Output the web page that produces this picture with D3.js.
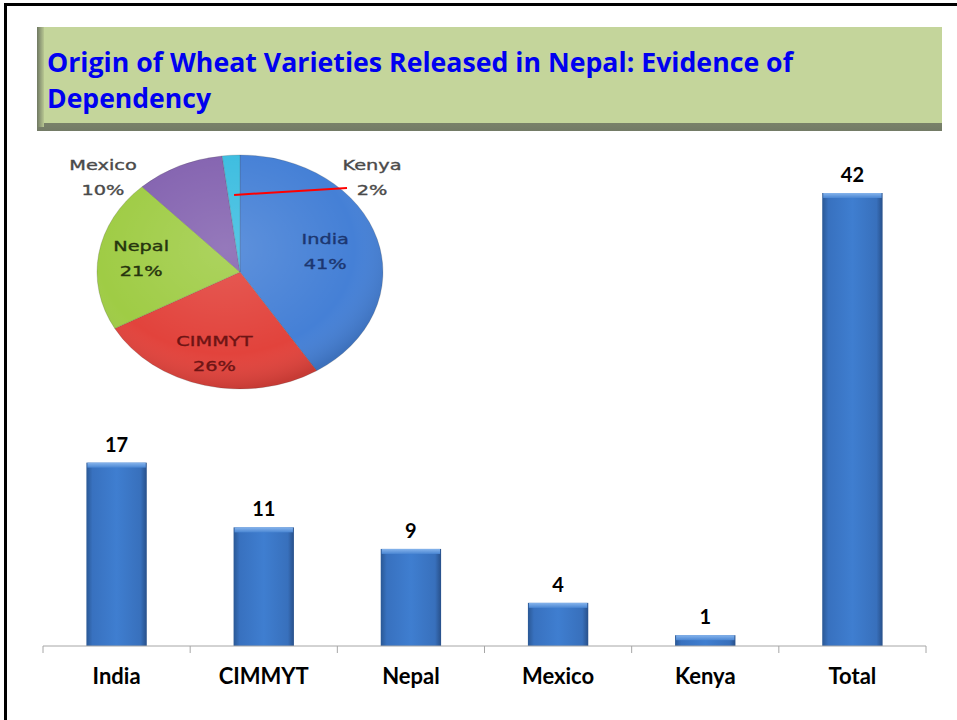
<!DOCTYPE html>
<html>
<head>
<meta charset="utf-8">
<script src="https://cdn.jsdelivr.net/npm/d3@7"></script>
<style>
  body { margin: 0; background: #fff; }
  svg { display: block; }
  text { font-variant-ligatures: none; font-feature-settings: "liga" 0, "clig" 0, "dlig" 0, "calt" 0; }
</style>
</head>
<body>
<div id="chart"></div>
<script>
// data
const categories = ["India", "CIMMYT", "Nepal", "Mexico", "Kenya", "Total"];
const counts = [17, 11, 9, 4, 1, 42];
const pieNames = ["India", "CIMMYT", "Nepal", "Mexico", "Kenya"];
const pieShares = [41, 26, 21, 10, 2]; // percent, as printed on the pie
const titleLines = ["Origin of Wheat Varieties Released in Nepal: Evidence of", "Dependency"];

const width = 957, height = 720;

const svg = d3.select("#chart").append("svg")
    .attr("width", width)
    .attr("height", height);

const defs = svg.append("defs");

// bar gradient (left/right edges darker)
const bg = defs.append("linearGradient").attr("id", "barGrad").attr("x1", 0).attr("x2", 1).attr("y1", 0).attr("y2", 0);
[["0%", "#2a5895"], ["10%", "#3871bf"], ["50%", "#3f7ed0"], ["90%", "#3870bc"], ["100%", "#28508a"]]
  .forEach(s => bg.append("stop").attr("offset", s[0]).attr("stop-color", s[1]));

const capG = defs.append("linearGradient").attr("id", "capGrad").attr("x1", 0).attr("x2", 0).attr("y1", 0).attr("y2", 1);
capG.append("stop").attr("offset", "0%").attr("stop-color", "#86b4ec");
capG.append("stop").attr("offset", "100%").attr("stop-color", "#4a86d3");

const shadeG = defs.append("radialGradient").attr("id", "pieShade")
    .attr("cx", "45%").attr("cy", "40%").attr("r", "60%");
shadeG.append("stop").attr("offset", "0%").attr("stop-color", "#fff").attr("stop-opacity", 0.14);
shadeG.append("stop").attr("offset", "75%").attr("stop-color", "#fff").attr("stop-opacity", 0);
shadeG.append("stop").attr("offset", "100%").attr("stop-color", "#000").attr("stop-opacity", 0.12);

const titleShadow = defs.append("linearGradient").attr("id", "tshadow").attr("x1", 0).attr("x2", 0).attr("y1", 0).attr("y2", 1);
titleShadow.append("stop").attr("offset", "0%").attr("stop-color", "#b8c792");
titleShadow.append("stop").attr("offset", "100%").attr("stop-color", "#737b66");

const leftShadow = defs.append("linearGradient").attr("id", "lshadow").attr("x1", 0).attr("x2", 1).attr("y1", 0).attr("y2", 0);
leftShadow.append("stop").attr("offset", "0%").attr("stop-color", "#6f7862");
leftShadow.append("stop").attr("offset", "100%").attr("stop-color", "#b8c792");

// slide frame
svg.append("rect")
    .attr("x", 5.5).attr("y", 4.5)
    .attr("width", 1000).attr("height", 800)
    .attr("fill", "none")
    .attr("stroke", "#000")
    .attr("stroke-width", 3);

// title box
svg.append("rect").attr("x", 37).attr("y", 30).attr("width", 905).attr("height", 101).attr("fill", "url(#tshadow)");
svg.append("rect").attr("x", 37).attr("y", 27).attr("width", 7).attr("height", 100).attr("fill", "url(#lshadow)");
svg.append("rect").attr("x", 44).attr("y", 27).attr("width", 898).attr("height", 96).attr("fill", "#c4d59b");

svg.append("g")
  .selectAll("text")
  .data(titleLines)
  .join("text")
    .attr("x", 47)
    .attr("y", (d, i) => 72 + i * 36)
    .attr("font-family", "'Open Sans', Lato, sans-serif")
    .attr("font-weight", "bold")
    .attr("font-size", 26)
    .attr("fill", "#0000f0")
    .attr("textLength", (d, i) => i === 0 ? 746 : 164)
    .attr("lengthAdjust", "spacingAndGlyphs")
    .text(d => d);

//==============================================================================
// bar chart

const x = d3.scaleBand()
    .domain(categories)
    .range([43, 926])
    .paddingInner(0.59)
    .paddingOuter(0.295);

const y = d3.scaleLinear()
    .domain([0, 42])
    .range([646, 193]);

const bars = svg.append("g");

bars.selectAll("rect.bar")
  .data(categories)
  .join("rect")
    .attr("class", "bar")
    .attr("x", d => x(d))
    .attr("y", (d, i) => y(counts[i]))
    .attr("width", x.bandwidth())
    .attr("height", (d, i) => y(0) - y(counts[i]))
    .attr("fill", "url(#barGrad)");

bars.selectAll("rect.cap")
  .data(categories)
  .join("rect")
    .attr("class", "cap")
    .attr("x", d => x(d) + 1)
    .attr("y", (d, i) => y(counts[i]))
    .attr("width", x.bandwidth() - 2)
    .attr("height", 5)
    .attr("fill", "url(#capGrad)");

bars.selectAll("text.val")
  .data(categories)
  .join("text")
    .attr("class", "val")
    .attr("x", d => x(d) + x.bandwidth() / 2)
    .attr("y", (d, i) => y(counts[i]) - 11)
    .attr("text-anchor", "middle")
    .attr("font-family", "Lato, 'Open Sans', sans-serif")
    .attr("font-weight", "bold")
    .attr("font-size", 20)
    .attr("fill", "#000")
    .text((d, i) => counts[i]);

// axis: line with ticks at band boundaries
const axis = svg.append("g").attr("transform", "translate(0,646)");
axis.append("line")
    .attr("x1", 43).attr("x2", 926)
    .attr("stroke", "#a6a6a6");
axis.selectAll("line.tick")
  .data(d3.range(categories.length + 1))
  .join("line")
    .attr("class", "tick")
    .attr("x1", i => 43 + i * x.step())
    .attr("x2", i => 43 + i * x.step())
    .attr("y1", 0).attr("y2", 7)
    .attr("stroke", "#a6a6a6");
axis.selectAll("text")
  .data(categories)
  .join("text")
    .attr("x", d => x(d) + x.bandwidth() / 2)
    .attr("y", 38)
    .attr("text-anchor", "middle")
    .attr("font-family", "Lato, 'Open Sans', sans-serif")
    .attr("font-weight", "bold")
    .attr("font-size", 22)
    .attr("fill", "#000")
    .text(d => d);

//==============================================================================
// pie (tilted, drawn as an ellipse)

const cx = 240, cy = 272, rx = 143, ry = 117;
const pieColors = ["#4580d6", "#e2433c", "#9fcc45", "#8463b0", "#3cbde0"];
const labelColors = ["#1c3670", "#6e1414", "#26340e", "#4a4a4a", "#4a4a4a"];

const arcs = d3.pie().sort(null)(pieShares);
const arc = d3.arc().innerRadius(0).outerRadius(1);

const pie = svg.append("g").attr("transform", `translate(${cx},${cy}) scale(${rx},${ry})`);

pie.selectAll("path")
  .data(arcs)
  .join("path")
    .attr("d", arc)
    .attr("fill", (d, i) => pieColors[i])
    .attr("stroke", "rgba(60,60,60,0.25)")
    .attr("stroke-width", 0.8)
    .attr("vector-effect", "non-scaling-stroke");

pie.append("ellipse")
    .attr("rx", 1).attr("ry", 1)
    .attr("fill", "url(#pieShade)");

// label anchors: inside slices on the centroid ray, small slices outside
function ray(d, k) {
  const a = (d.startAngle + d.endAngle) / 2;
  return [cx + Math.sin(a) * rx * k, cy - Math.cos(a) * ry * k];
}
const outside = { Mexico: [103, 164], Kenya: [372, 164] };
const insideK = [0.62, 0.72, 0.7];

const labels = svg.append("g")
    .attr("font-family", "'DejaVu Sans', sans-serif")
    .attr("font-size", 14)
    .attr("stroke-width", 0.35);

arcs.forEach((d, i) => {
  const name = pieNames[i];
  let p;
  if (outside[name]) p = outside[name];
  else { const c = ray(d, insideK[i]); p = [c[0], c[1] - 14]; }
  const g = labels.append("g").attr("transform", `translate(${p[0]},${p[1]}) scale(1.38,1)`);
  g.append("text")
      .attr("text-anchor", "middle")
      .attr("y", 6)
      .attr("fill", labelColors[i])
      .attr("stroke", labelColors[i])
      .text(name);
  g.append("text")
      .attr("text-anchor", "middle")
      .attr("y", 31)
      .attr("fill", labelColors[i])
      .attr("stroke", labelColors[i])
      .text(pieShares[i] + "%");
});

// Kenya leader line
const kStart = ray(arcs[4], 0.66);
svg.append("line")
    .attr("x1", kStart[0]).attr("y1", kStart[1])
    .attr("x2", 347).attr("y2", 188)
    .attr("stroke", "#ff0000")
    .attr("stroke-width", 2);
</script>
</body>
</html>
